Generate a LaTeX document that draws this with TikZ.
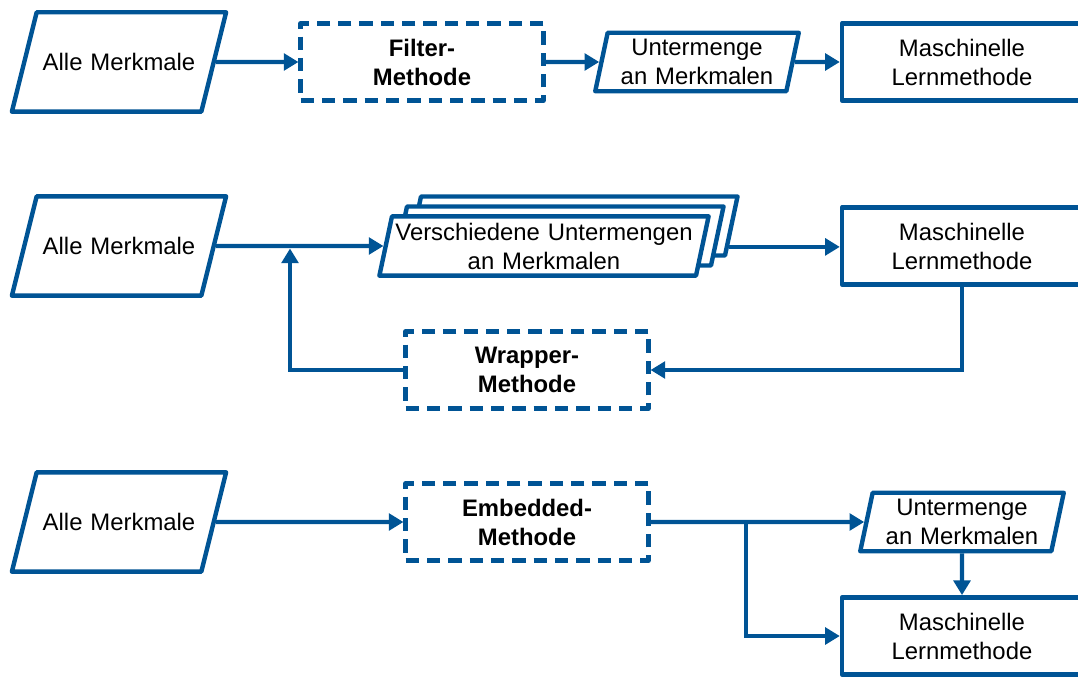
\documentclass[tikz,border=0pt]{standalone}
\usepackage{fontspec}
\setmainfont{Liberation Sans}
\usetikzlibrary{arrows.meta,calc,shapes.geometric}
\definecolor{boxLine}{RGB}{0,84,149}
\tikzset{
  base/.style={draw=boxLine, line width=3.3pt, line join=round, fill=white, align=center,
               inner sep=1pt, font=\fontsize{17.9pt}{21.75pt}\selectfont},
  data/.style={base, trapezium, trapezium left angle=78, trapezium right angle=102,
               inner xsep=0pt, inner ysep=4.8pt, text width=134pt},
  allin/.style={data, trapezium left angle=76, trapezium right angle=104,
                inner ysep=30.7pt, text width=123.5pt},
  meth/.style={base, rectangle, dash pattern=on 10pt off 6pt, minimum width=182pt, minimum height=58pt,
               font=\fontsize{17.9pt}{21.75pt}\selectfont\bfseries},
  learn/.style={base, rectangle, minimum width=180pt, minimum height=58pt},
  flow/.style={-{Triangle[length=11pt,width=12.5pt]}, draw=boxLine, line width=3.3pt},
}

\begin{document}
\begin{tikzpicture}[x=0.75pt, y=-0.75pt]
  \useasboundingbox (0,0) rectangle (1078,677);
  % Filter
  \node[allin] (in1) at (119,62) {Alle Merkmale};
  \node[meth] (filt) at (422,62) {Filter-\\Methode};
  \node[data] (sub1) at (697,62) {Untermenge\\an Merkmalen};
  \node[learn] (ml1) at (962,62) {Maschinelle\\Lernmethode};
  \draw[flow] (in1) -- (filt); \draw[flow] (filt) -- (sub1); \draw[flow] (sub1) -- (ml1);
  % Wrapper
  \node[allin] (in2) at (119,246) {Alle Merkmale};
  \node[data, text width=228pt, text height=34.6pt] (st3) at (573,226) {};
  \node[data, text width=228pt, text height=34.6pt] (st2) at (559,236) {};
  \node[data, text width=228pt] (st1) at (544,246) {Verschiedene Untermengen\\an Merkmalen};
  \node[learn] (ml2) at (962,246) {Maschinelle\\Lernmethode};
  \node[meth] (wrap) at (527,370) {Wrapper-\\Methode};
  \coordinate (stout) at ($(st3.bottom right corner)!0.17!(st3.top right corner)$);
  \coordinate (back) at (290,248.5);
  \draw[flow] (in2) -- (st1);
  \draw[flow] (stout) -- (stout -| ml2.west);
  \draw[flow] (ml2.south) |- (wrap.east);
  \draw[flow] (wrap.west) -| (back);
  % Embedded
  \node[allin] (in3) at (119,522) {Alle Merkmale};
  \node[meth] (emb) at (527,522) {Embedded-\\Methode};
  \node[data] (sub3) at (962,522) {Untermenge\\an Merkmalen};
  \node[learn] (ml3) at (962,636) {Maschinelle\\Lernmethode};
  \coordinate (split) at (746,522);
  \draw[flow] (in3) -- (emb); \draw[flow] (emb) -- (sub3);
  \draw[flow] (split) |- (ml3.west);
  \draw[flow] (sub3) -- (ml3);
\end{tikzpicture}
\end{document}
